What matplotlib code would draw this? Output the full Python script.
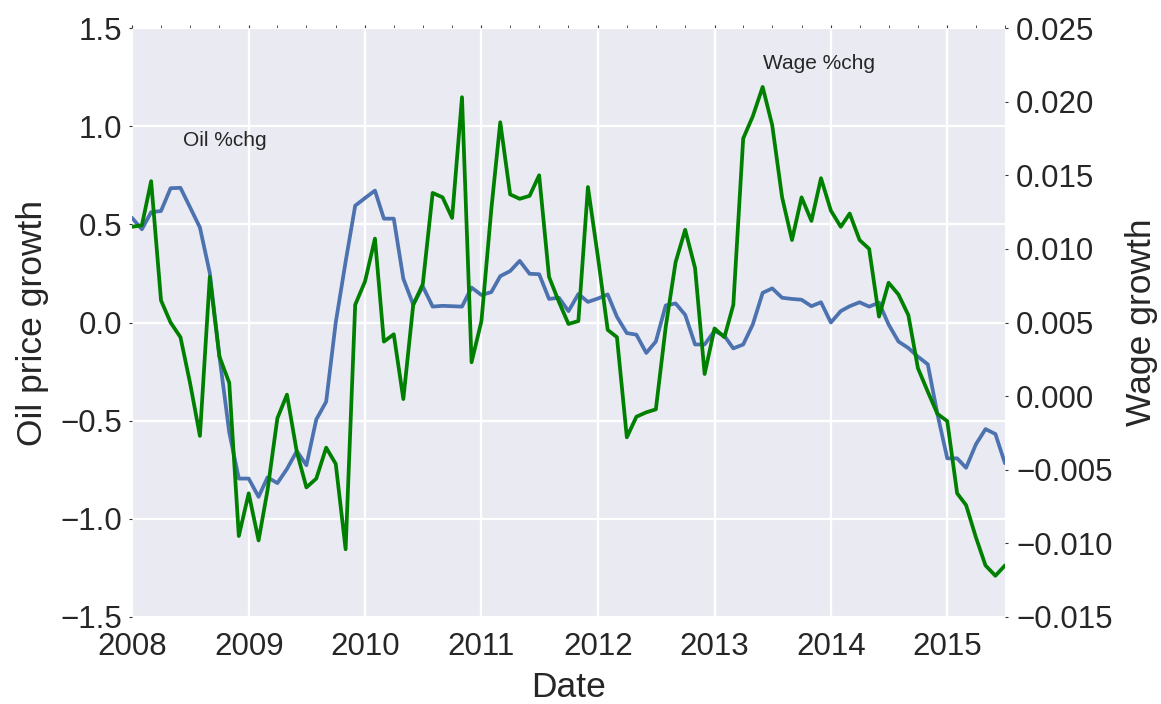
import matplotlib
matplotlib.use("Agg")
import matplotlib.pyplot as plt
import matplotlib.dates as mdates
import seaborn as sns
import pandas as pd
import numpy as np

sns.set_style("darkgrid")
plt.rcParams['font.family'] = ['Liberation Sans', 'DejaVu Sans']

start_date = "2008-01-01"
n_months = 91

oil_growth = [
    0.533, 0.475, 0.562, 0.568, 0.684, 0.686, 0.587, 0.484, 0.252, -0.17,
    -0.56, -0.795, -0.795, -0.888, -0.789, -0.818, -0.746, -0.655, -0.727, -0.494,
    -0.403, 0.0, 0.31, 0.595, 0.634, 0.672, 0.529, 0.529, 0.223, 0.091,
    0.184, 0.081, 0.085, 0.083, 0.081, 0.178, 0.14, 0.155, 0.236, 0.262,
    0.314, 0.248, 0.246, 0.12, 0.126, 0.058, 0.145, 0.105, 0.122, 0.143,
    0.029, -0.054, -0.062, -0.155, -0.097, 0.087, 0.097, 0.039, -0.112, -0.112,
    -0.043, -0.068, -0.132, -0.112, -0.01, 0.151, 0.174, 0.126, 0.12, 0.116,
    0.083, 0.103, 0.0, 0.058, 0.083, 0.103, 0.081, 0.101, -0.01, -0.097,
    -0.13, -0.174, -0.213, -0.465, -0.692, -0.692, -0.74, -0.62, -0.543, -0.568,
    -0.717,
]

wage_growth = [
    0.0115, 0.0116, 0.0146, 0.0065, 0.0050, 0.0040, 0.0009, -0.0027, 0.0081, 0.0027,
    0.0009, -0.0095, -0.0066, -0.0098, -0.0064, -0.0015, 0.0001, -0.0038, -0.0062, -0.0056,
    -0.0035, -0.0046, -0.0104, 0.0062, 0.0078, 0.0107, 0.0037, 0.0042, -0.0002, 0.0062,
    0.0076, 0.0138, 0.0135, 0.0121, 0.0203, 0.0023, 0.0051, 0.0127, 0.0186, 0.0137,
    0.0134, 0.0136, 0.0150, 0.0081, 0.0064, 0.0049, 0.0051, 0.0142, 0.0095, 0.0045,
    0.0040, -0.0028, -0.0014, -0.0011, -0.0009, 0.0047, 0.0091, 0.0113, 0.0087, 0.0015,
    0.0046, 0.0040, 0.0062, 0.0175, 0.0190, 0.0210, 0.0184, 0.0135, 0.0106, 0.0135,
    0.0119, 0.0148, 0.0126, 0.0115, 0.0124, 0.0106, 0.0100, 0.0054, 0.0077, 0.0069,
    0.0055, 0.0019, 0.0003, -0.0012, -0.0017, -0.0066, -0.0074, -0.0096, -0.0115, -0.0122,
    -0.0115,
]

left_ticks = [-1.5, -1.0, -0.5, 0.0, 0.5, 1.0, 1.5]
right_ticks = [-0.015, -0.010, -0.005, 0.000, 0.005, 0.010, 0.015, 0.020, 0.025]

dates = pd.date_range(start_date, periods=n_months, freq="MS")

fig = plt.figure(figsize=(11.61, 7.04), dpi=100)
ax = fig.add_axes([0.1137, 0.1236, 0.7519, 0.8366])
ax2 = ax.twinx()

ax.plot(dates, oil_growth, color="#4C72B0", lw=2.7)
ax2.plot(dates, wage_growth, color="green", lw=2.7)

ax.set_xlim(dates[0], dates[-1])
ax.set_ylim(-1.5, 1.5)
ax2.set_ylim(-0.015, 0.025)
ax.set_yticks(left_ticks)
ax.set_yticklabels([f"{t:.1f}".replace("-", "\u2212") for t in left_ticks])
ax2.set_yticks(right_ticks)
ax2.set_yticklabels([f"{t:.3f}".replace("-", "\u2212") for t in right_ticks])

ax.xaxis.set_major_locator(mdates.YearLocator())
ax.xaxis.set_major_formatter(mdates.DateFormatter("%Y"))
ax.xaxis.set_minor_locator(mdates.MonthLocator(bymonth=[1, 4, 7, 10]))

ax.grid(True, which="major", color="white", lw=1.6)
ax.grid(False, which="minor")
ax2.grid(False)
for a in (ax, ax2):
    for s in a.spines.values():
        s.set_visible(False)

tick_fs = 22.5
ax.tick_params(axis="y", which="major", labelsize=tick_fs, length=2, color="#333333",
               pad=5, labelcolor="#262626", right=False)
ax.tick_params(axis="x", which="major", labelsize=tick_fs, length=2, color="#333333",
               pad=9, labelcolor="#262626", top=True)
ax.tick_params(axis="x", which="minor", length=2, color="#333333", top=True)
ax2.tick_params(axis="y", labelsize=tick_fs, length=2, color="#333333", pad=6, labelcolor="#262626")

ax.set_xlabel("Date", fontsize=25.5, color="#262626", labelpad=6)
ax.set_ylabel("Oil price growth", fontsize=25.5, color="#262626", labelpad=8)
ax2.set_ylabel("Wage growth", fontsize=25.5, color="#262626", labelpad=9)

ax.text(pd.Timestamp("2008-06-08"), 0.90, "Oil %chg", fontsize=15, color="#262626")
ax2.text(pd.Timestamp("2013-06-03"), 0.0222, "Wage %chg", fontsize=15, color="#262626")

fig.savefig("out.png", dpi=100)
